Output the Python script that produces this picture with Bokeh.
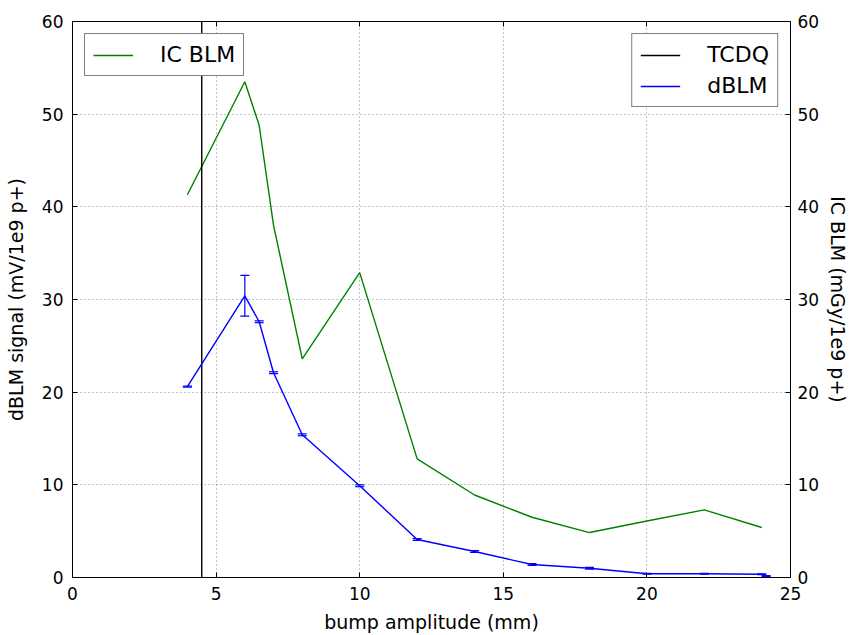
from bokeh.plotting import figure
from bokeh.models import (ColumnDataSource, Range1d, LinearAxis, Legend, LegendItem,
                          Whisker, TeeHead, FixedTicker)
from bokeh.embed import file_html
from bokeh.resources import INLINE

# ---- data ----
dblm_x = [4, 6, 6.5, 7, 8, 10, 12, 14, 16, 18, 20, 22, 24, 24.15]
dblm_y = [20.6, 30.4, 27.6, 22.1, 15.4, 9.9, 4.1, 2.8, 1.4, 1.0, 0.4, 0.4, 0.35, 0.15]
dblm_err = [0.05, 2.2, 0.1, 0.1, 0.1, 0.1, 0.1, 0.1, 0.1, 0.1, 0.05, 0.05, 0.05, 0.05]

ic_x = [4, 6, 6.5, 7, 8, 10, 12, 14, 16, 18, 20, 22, 24]
ic_y = [41.3, 53.5, 48.8, 38.0, 23.6, 32.9, 12.8, 8.9, 6.5, 4.85, 6.1, 7.3, 5.4]

tcdq_x = [4.5, 4.5]
tcdq_y = [0, 60]

x_ticks = [0, 5, 10, 15, 20, 25]
y_ticks = [0, 10, 20, 30, 40, 50, 60]

FONT = "DejaVu Sans"
TICK_FS = "17px"
LABEL_FS = "19px"

p = figure(width=852, height=635, x_range=Range1d(0, 25), y_range=Range1d(0, 60),
           output_backend="svg", toolbar_location=None,
           min_border_left=72, min_border_right=0, min_border_top=21, min_border_bottom=57)
p.extra_y_ranges = {"ic": Range1d(0, 60)}

p.outline_line_color = "black"
p.outline_line_width = 1
p.background_fill_color = "white"
p.border_fill_color = "white"

def style_axis(ax, ticks, labels=True):
    ax.ticker = FixedTicker(ticks=ticks)
    ax.axis_line_color = "black"
    ax.major_tick_line_color = "black"
    ax.major_tick_in = 5
    ax.major_tick_out = 0
    ax.minor_tick_line_color = None
    ax.major_label_text_font = FONT
    ax.major_label_text_font_size = TICK_FS
    ax.major_label_text_color = "black" if labels else None
    ax.axis_label_text_font = FONT
    ax.axis_label_text_font_size = LABEL_FS
    ax.axis_label_text_font_style = "normal"
    ax.axis_label_text_color = "black"
    ax.major_label_standoff = 7

p.xaxis.axis_label = "bump amplitude (mm)"
p.yaxis.axis_label = "dBLM signal (mV/1e9 p+)"
style_axis(p.xaxis[0], x_ticks)
style_axis(p.yaxis[0], y_ticks)
p.xaxis.major_label_standoff = 9
p.xaxis.axis_label_standoff = 8
p.yaxis.major_label_standoff = 9
p.yaxis.axis_label_standoff = 12

right = LinearAxis(y_range_name="ic", axis_label="IC BLM (mGy/1e9 p+)")
style_axis(right, y_ticks)
right.axis_label_orientation = "vertical"
right.major_label_standoff = 7
right.axis_label_standoff = 5
p.add_layout(right, "right")

top = LinearAxis()
style_axis(top, x_ticks, labels=False)
top.major_label_text_font_size = "0px"
top.major_label_standoff = 0
p.add_layout(top, "above")

for g in (p.xgrid[0], p.ygrid[0]):
    g.grid_line_color = "black"
    g.grid_line_alpha = 0.6
    g.grid_line_width = 0.8
    g.grid_line_dash = "1 3"
p.xgrid.ticker = FixedTicker(ticks=x_ticks)
p.ygrid.ticker = FixedTicker(ticks=y_ticks)

# ---- glyphs ----
ic_src = ColumnDataSource(dict(x=ic_x, y=ic_y))
ic_line = p.line("x", "y", source=ic_src, line_color="#008000", line_width=1.4, y_range_name="ic")

tcdq_line = p.line(tcdq_x, tcdq_y, line_color="black", line_width=1.4)

d_src = ColumnDataSource(dict(x=dblm_x, y=dblm_y,
                              upper=[v + e for v, e in zip(dblm_y, dblm_err)],
                              lower=[v - e for v, e in zip(dblm_y, dblm_err)]))
d_line = p.line("x", "y", source=d_src, line_color="#0000ff", line_width=1.4)
wh = Whisker(source=d_src, base="x", upper="upper", lower="lower",
             line_color="#0000ff", line_width=1.2,
             upper_head=TeeHead(size=9, line_color="#0000ff", line_width=1.2),
             lower_head=TeeHead(size=9, line_color="#0000ff", line_width=1.2))
p.add_layout(wh)

def style_legend(lg):
    lg.border_line_color = "black"
    lg.border_line_width = 1.2
    lg.background_fill_color = "white"
    lg.background_fill_alpha = 1
    lg.label_text_font = FONT
    lg.label_text_font_size = "22px"
    lg.label_text_color = "black"
    lg.label_height = 22
    lg.glyph_width = 40
    lg.label_standoff = 27
    lg.padding = 8
    lg.spacing = 6
    lg.margin = 12

lg1 = Legend(items=[LegendItem(label="IC BLM", renderers=[ic_line])], location="top_left")
style_legend(lg1)
lg2 = Legend(items=[LegendItem(label="TCDQ", renderers=[tcdq_line]),
                    LegendItem(label="dBLM", renderers=[d_line])], location="top_right")
style_legend(lg2)
p.add_layout(lg1)
p.add_layout(lg2)

open("out.html", "w").write(file_html(p, INLINE))
